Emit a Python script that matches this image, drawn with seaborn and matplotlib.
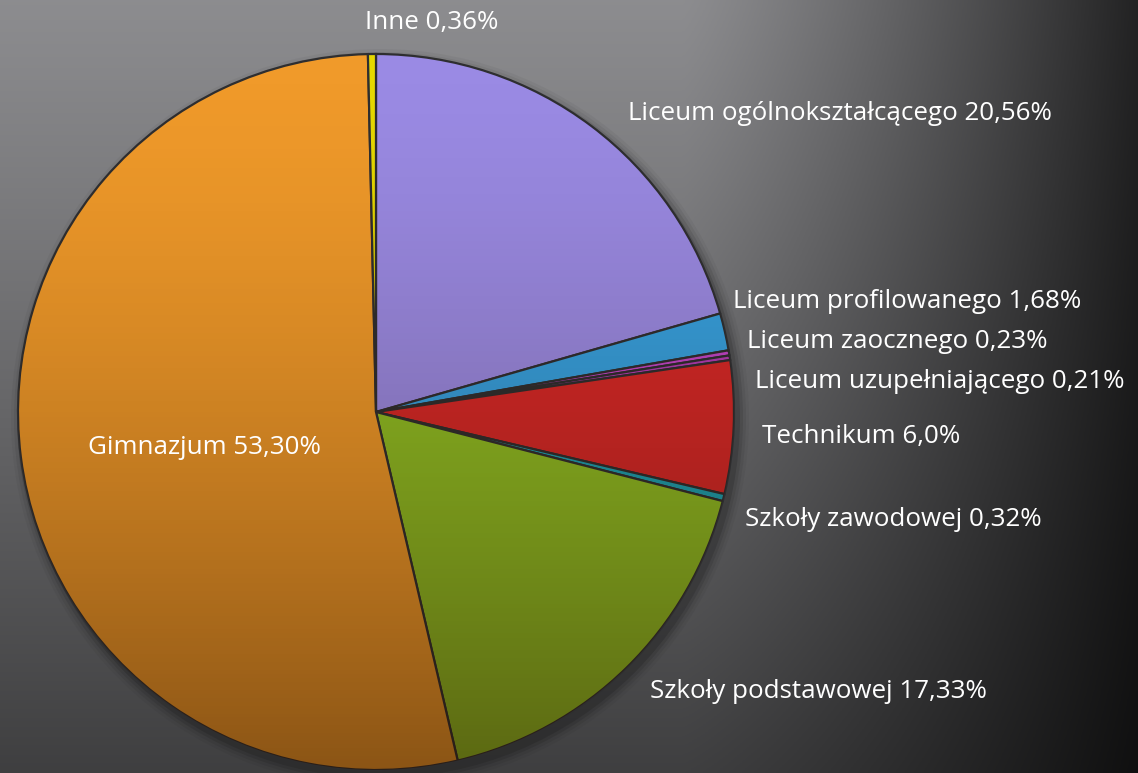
import numpy as np
import seaborn as sns
import matplotlib.pyplot as plt
from matplotlib.patches import Circle

# Dane
kategorie = ["Liceum ogólnokształcącego", "Liceum profilowanego", "Liceum zaocznego",
             "Liceum uzupełniającego", "Technikum", "Szkoły zawodowej",
             "Szkoły podstawowej", "Gimnazjum", "Inne"]
udzialy = [20.56, 1.68, 0.23, 0.21, 6.0, 0.32, 17.33, 53.30, 0.36]
etykiety = ["Liceum ogólnokształcącego 20,56%", "Liceum profilowanego 1,68%",
            "Liceum zaocznego 0,23%", "Liceum uzupełniającego 0,21%", "Technikum 6,0%",
            "Szkoły zawodowej 0,32%", "Szkoły podstawowej 17,33%", "Gimnazjum 53,30%",
            "Inne 0,36%"]
kolory = ["#9a8ae4", "#35a2e2", "#c446cc", "#b43cb8", "#d82828", "#1aa4b6",
          "#90c024", "#f09a2a", "#e6d800"]

sns.set_theme(style="white")
plt.rcParams["font.family"] = ["Open Sans", "DejaVu Sans"]
paleta = sns.color_palette(kolory)

W, H = 1138, 773
fig = plt.figure(figsize=(W / 100, H / 100), dpi=100)
ax = fig.add_axes([0, 0, 1, 1])

# Tło: szary gradient (jaśniej u góry po lewej, ciemno po prawej i na dole)
xx = np.linspace(0, 1, 400)
yy = np.linspace(0, 1, 300)
X, Y = np.meshgrid(xx, yy)
fv = 1 - 0.55 * Y ** 1.1
fh = np.clip(1 - 0.75 * np.clip((X - 0.6) / 0.4, 0, 1) ** 1.2, 0, 1)
jasnosc = 0.55 * fv * fh
tlo = np.dstack([jasnosc, jasnosc, jasnosc * 1.02])
ax.imshow(np.clip(tlo, 0, 1), extent=(0, W, 0, H), origin="upper",
          aspect="auto", zorder=0)

cx, cy, r = 376, H - 412, 358

# Cień pod wykresem
for i, a in enumerate([0.12, 0.09, 0.06, 0.04]):
    ax.add_patch(Circle((cx + 4, cy - 6), r + 2 + 3 * i, color="black", alpha=a,
                        zorder=1, lw=0))

wedges, _ = ax.pie(udzialy, colors=paleta, startangle=90, counterclock=False,
                   center=(cx, cy), radius=r, frame=True,
                   wedgeprops=dict(edgecolor="#2e2e30", linewidth=1.6, zorder=2))

# Przyciemnienie ku dołowi
g = np.linspace(0, 1, 256)[:, None]
cien = np.zeros((256, 1, 4))
cien[..., 0] = 0.15
cien[..., 1] = 0.06
cien[..., 3] = 0.5 * g ** 1.5
im = ax.imshow(cien, extent=(cx - r, cx + r, cy - r, cy + r), origin="upper",
               aspect="auto", zorder=3)
im.set_clip_path(Circle((cx, cy), r, transform=ax.transData))

# Etykiety
pozycje = [(628, 113), (733, 302), (747, 341), (755, 381), (762, 437),
           (745, 520), (650, 692), (88, 447), (365, 22)]
for tekst, (px, py) in zip(etykiety, pozycje):
    ax.text(px, H - py, tekst, color="white", fontsize=18.7, ha="left",
            va="center", zorder=5)

ax.set_xlim(0, W)
ax.set_ylim(0, H)
ax.set_aspect("equal")
ax.axis("off")

plt.savefig("out.png", dpi=100)
